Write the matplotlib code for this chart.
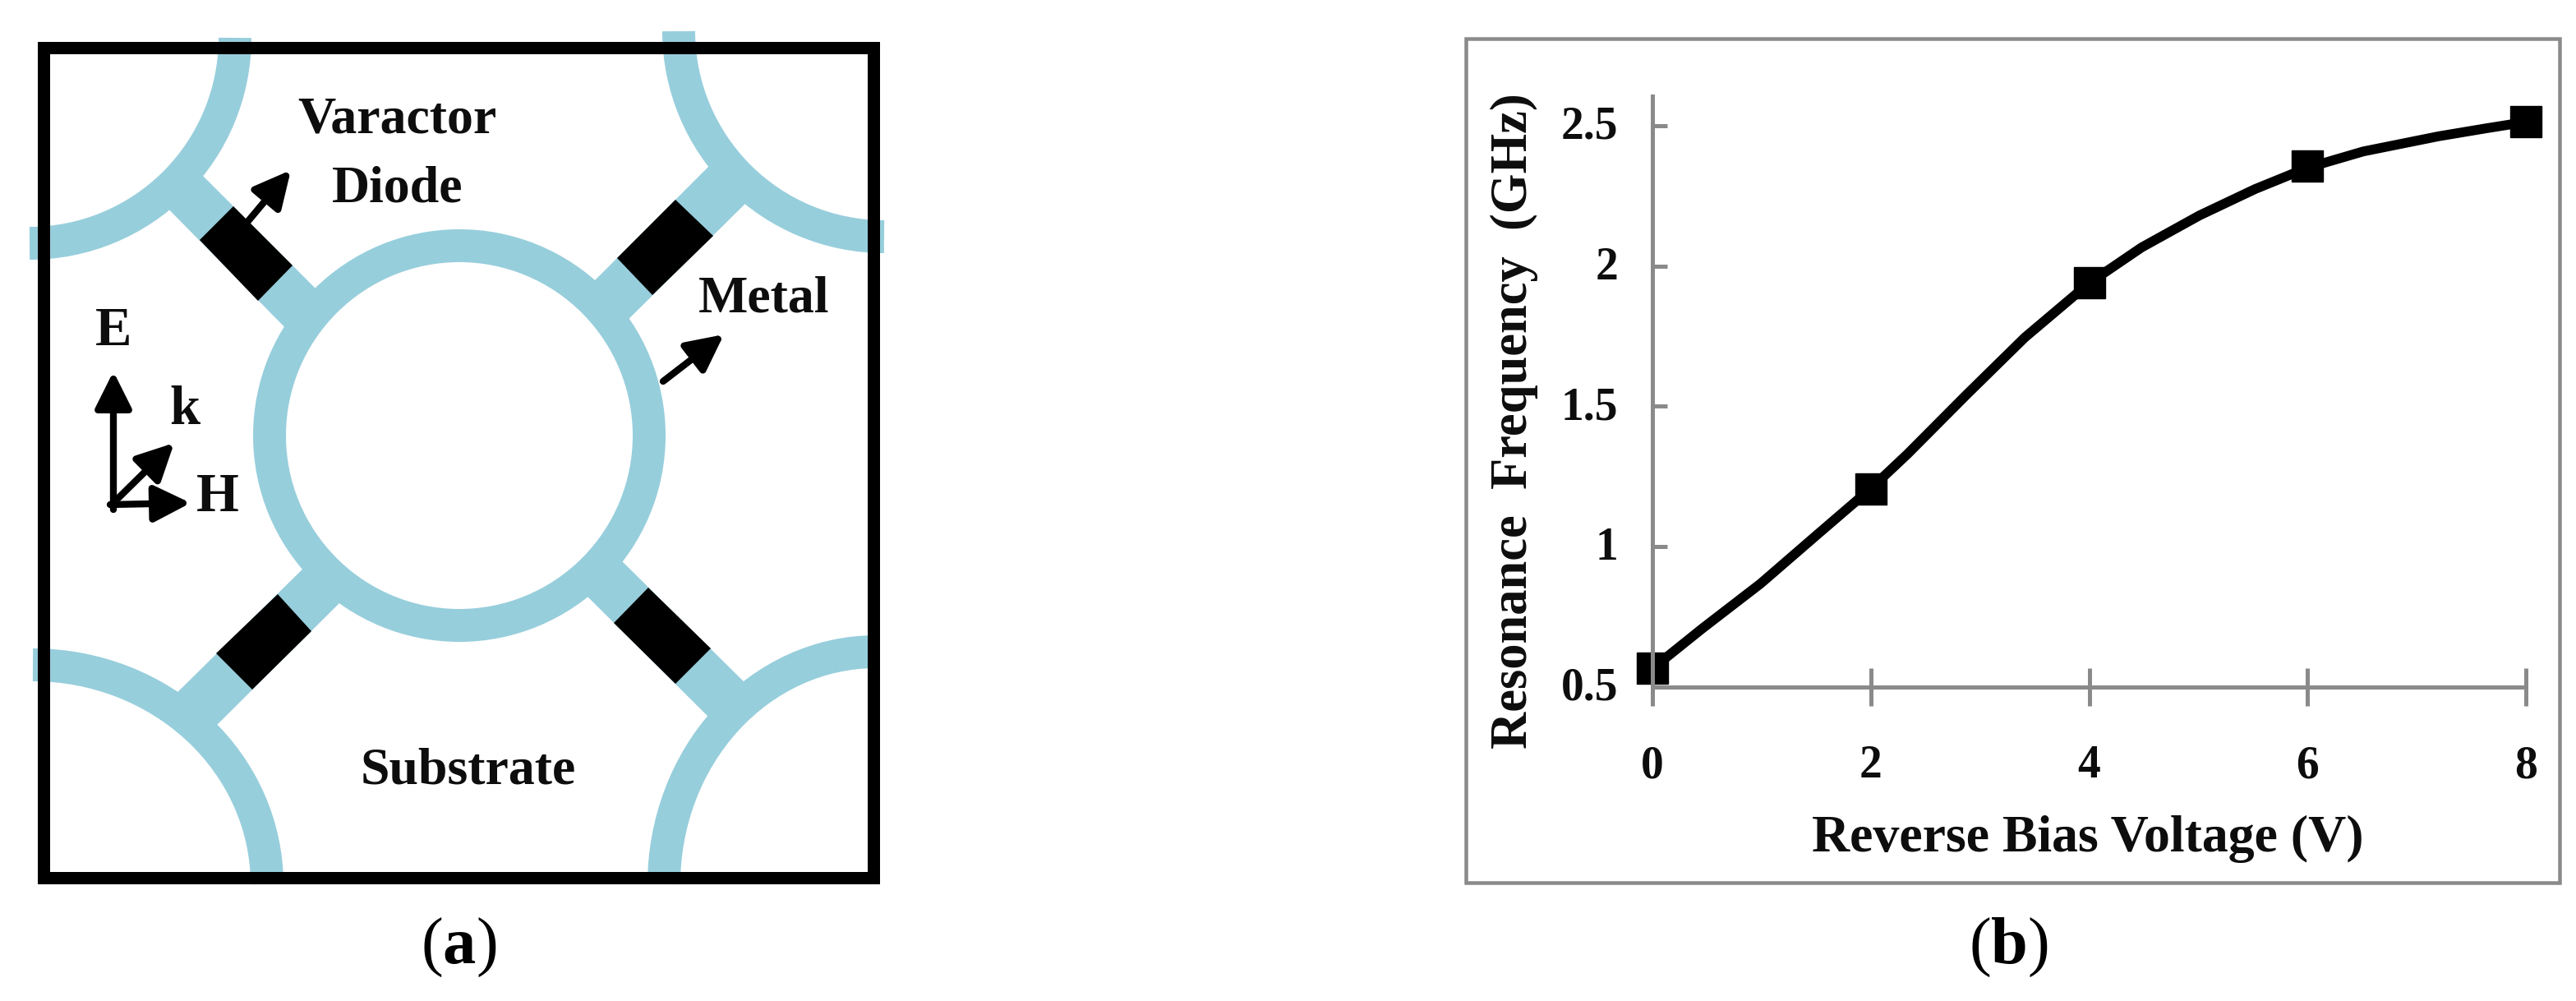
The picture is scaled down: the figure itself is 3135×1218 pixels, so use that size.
from matplotlib.patches import Arc, Circle, FancyArrowPatch, Polygon, Rectangle
from matplotlib.transforms import ScaledTranslation
import matplotlib.pyplot as plt

plt.rcParams["font.family"] = ["Liberation Serif", "DejaVu Serif"]
plt.rcParams["mathtext.fontset"] = "custom"
plt.rcParams["mathtext.bf"] = "Liberation Serif:bold"
plt.rcParams["mathtext.rm"] = "Liberation Serif"

W, H = 3135, 1218
PX = 72 / 100  # points per pixel at dpi 100

voltage = [0, 2, 4, 6, 8]
frequency = [0.566, 1.207, 1.939, 2.356, 2.513]
curve_v = [0, 0.455, 0.992, 1.53, 2, 2.336, 2.873, 3.41, 4, 4.48, 5.01, 5.52, 6, 6.51, 7.2, 7.63, 8]
curve_f = [0.566, 0.708, 0.869, 1.05, 1.207, 1.33, 1.54, 1.745, 1.939, 2.066, 2.18, 2.274, 2.35, 2.408, 2.462, 2.49, 2.513]
x_ticks = [0, 2, 4, 6, 8]
y_ticks = [0.5, 1, 1.5, 2, 2.5]
y_tick_labels = ["0.5", "1", "1.5", "2", "2.5"]

# (a) unit cell, all in image pixels (y down)
ring = (559, 530, 231)
corner_arcs = [
    (36, 46, 250, 250, 270, 360),
    (1076, 38, 250, 250, 180, 270),
    (40, 1076, 285, 267, 0, 90),
    (1066, 1076, 258, 283, 90, 180),
]
arms = [
    [(229, 196), (406, 373), (364, 416), (188, 237)],
    [(872, 193), (918, 237), (744, 409), (701, 364)],
    [(383, 678), (424, 723), (242, 904), (198, 860)],
    [(744, 670), (920, 844), (877, 887), (702, 713)],
]
diodes = [
    [(284, 251), (356, 323), (314, 366), (243, 292)],
    [(822, 243), (868, 287), (794, 359), (751, 314)],
    [(338, 723), (379, 768), (307, 839), (263, 795)],
    [(789, 715), (865, 789), (822, 832), (747, 758)],
]
arrows = [
    ((302, 269), (354, 207)),
    ((807, 464), (881, 407)),
    ((138, 620), (138, 452)),
    ((134, 614), (232, 612)),
    ((144, 606), (212, 539)),
]
labels = [
    ("Varactor", 483, 146, 46),
    ("Diode", 484, 230, 46),
    ("Metal", 930, 364, 46),
    ("E", 138, 403, 48),
    ("k", 225, 500, 48),
    ("H", 265, 606, 48),
    ("Substrate", 570, 939, 46),
]

METAL = "#97cedc"
GREY = "#8a8a8a"
INK = "#0d0d0d"


def flip(pts):
    return [(x, H - y) for x, y in pts]


fig = plt.figure(figsize=(W / 100, H / 100), dpi=100, facecolor="white")
ov = fig.add_axes([0, 0, 1, 1])
ov.set_xlim(0, W)
ov.set_ylim(0, H)
ov.axis("off")

# panel a
for cx, cy, rx, ry, t1, t2 in corner_arcs:
    ov.add_patch(Arc((cx, H - cy), 2 * rx, 2 * ry, theta1=t1, theta2=t2, color=METAL, lw=40 * PX))
for pts in arms:
    ov.add_patch(Polygon(flip(pts), closed=True, fc=METAL, ec="none"))
ov.add_patch(Circle((ring[0], H - ring[1]), ring[2], fc="none", ec=METAL, lw=40 * PX))
for pts in diodes:
    ov.add_patch(Polygon(flip(pts), closed=True, fc="black", ec="none"))
ov.add_patch(Rectangle((53, H - 1068), 1010, 1010, fc="none", ec="black", lw=15 * PX, joinstyle="miter"))
for start, end in arrows:
    ov.add_patch(FancyArrowPatch((start[0], H - start[1]), (end[0], H - end[1]),
                                 arrowstyle="-|>,head_length=0.9,head_width=0.45",
                                 mutation_scale=30, lw=6, color="black",
                                 shrinkA=0, shrinkB=0))
for txt, x, y, size in labels:
    ov.text(x, H - y, txt, ha="center", va="center", fontsize=size, fontweight="bold", color=INK)

# panel b frame
ov.add_patch(Rectangle((1784, H - 1074), 1331, 1027, fc="none", ec=GREY, lw=4.5 * PX))

# captions
ov.text(558, H - 1153, r"($\mathbf{a}$)", ha="center", va="center", fontsize=58, color="black")
ov.text(2444, H - 1153, r"($\mathbf{b}$)", ha="center", va="center", fontsize=58, color="black")

# panel b chart
ax = fig.add_axes([2011 / W, (H - 836) / H, (3074 - 2011) / W, (836 - 117) / H])
ax.patch.set_alpha(0)
ax.plot(curve_v, curve_f, color="black", lw=8.5, clip_on=False, solid_joinstyle="round")
ax.plot(voltage, frequency, ls="none", marker="s", ms=27, color="black", clip_on=False)
ax.set_xlim(0, 8)
ax.set_ylim(0.5, 2.605)
ax.set_xticks(x_ticks)
ax.set_yticks(y_ticks)
ax.set_yticklabels(y_tick_labels)
for s in ("top", "right"):
    ax.spines[s].set_visible(False)
for s in ("left", "bottom"):
    ax.spines[s].set_color(GREY)
    ax.spines[s].set_linewidth(3.6)
ax.tick_params(axis="x", direction="inout", length=46 * PX, width=3.6, color=GREY,
               labelsize=40, pad=34, labelcolor=INK)
ax.tick_params(axis="y", direction="in", length=18 * PX, width=3.6, color=GREY,
               labelsize=40, pad=30, labelcolor=INK)
up = ScaledTranslation(0, 4 / 100, fig.dpi_scale_trans)
for t in ax.get_xticklabels() + ax.get_yticklabels():
    t.set_fontweight("bold")
for t in ax.get_yticklabels():
    t.set_transform(t.get_transform() + up)
ax.set_xlabel("Reverse Bias Voltage (V)", fontsize=46, fontweight="bold", color=INK)
ax.xaxis.set_label_coords((2541 - 2011) / (3074 - 2011), (836 - 1021) / (836 - 117), transform=ax.transAxes)
ax.xaxis.label.set_va("center")
ax.set_ylabel("Resonance  Frequency  (GHz)", fontsize=45, fontweight="bold", color=INK)
ax.yaxis.set_label_coords((1843 - 2011) / (3074 - 2011), (836 - 512) / (836 - 117), transform=ax.transAxes)
ax.yaxis.label.set_va("center")

fig.savefig("out.png", dpi=100, facecolor="white")
